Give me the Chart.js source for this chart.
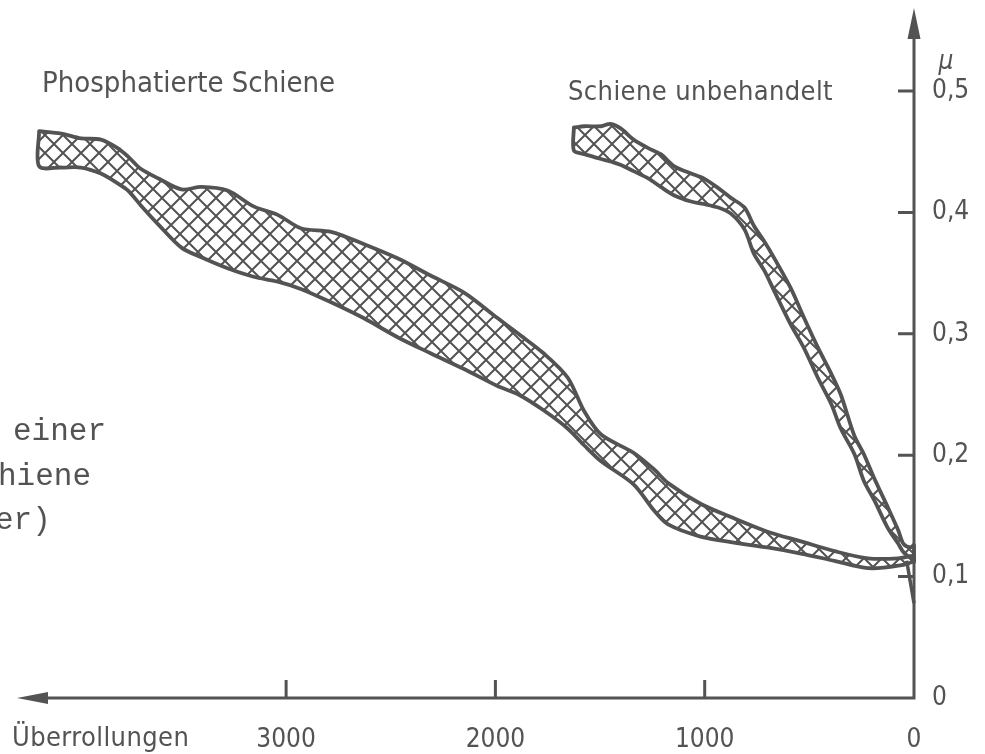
<!DOCTYPE html>
<html>
<head>
<meta charset="utf-8">
<script src="https://cdn.jsdelivr.net/npm/chart.js@4.4.1/dist/chart.umd.min.js"></script>
<style>
html,body{margin:0;padding:0;background:#ffffff;}
#c{display:block;}
</style>
</head>
<body>
<canvas id="c" width="985" height="754" style="width:985px;height:754px"></canvas>
<script>
// ---------- data ----------
const xTickValues = [0, 1000, 2000, 3000];
const xTickLabels = ['0', '1000', '2000', '3000'];
const yTickValues = [0, 0.1, 0.2, 0.3, 0.4, 0.5];
const yTickLabels = ['0', '0,1', '0,2', '0,3', '0,4', '0,5'];
const xAxisTitle = 'Überrollungen';
const yAxisTitle = 'μ';
const phosLabel = 'Phosphatierte Schiene';
const untrLabel = 'Schiene unbehandelt';
const sideLines = ['einer', 'hiene', 'er)'];

// Phosphatierte Schiene: band between upper and lower boundary
const phosX     = [4180, 4075, 3980, 3885, 3805, 3755, 3695, 3610, 3500, 3405, 3280, 3155, 3040, 2930, 2785, 2630, 2465, 2310, 2150, 1990, 1890, 1770, 1655, 1575, 1495, 1340, 1240, 1175, 1020, 860, 700, 540, 380, 220, 75, 0];
const phosUpper = [0.467, 0.465, 0.461, 0.460, 0.453, 0.446, 0.436, 0.428, 0.419, 0.421, 0.418, 0.405, 0.398, 0.387, 0.384, 0.374, 0.362, 0.348, 0.334, 0.313, 0.300, 0.284, 0.264, 0.236, 0.217, 0.202, 0.188, 0.177, 0.160, 0.148, 0.137, 0.129, 0.121, 0.115, 0.115, 0.117];
const phosLower = [0.438, 0.437, 0.437, 0.432, 0.424, 0.418, 0.406, 0.390, 0.371, 0.363, 0.354, 0.347, 0.343, 0.337, 0.326, 0.313, 0.297, 0.284, 0.271, 0.257, 0.250, 0.237, 0.222, 0.208, 0.195, 0.176, 0.154, 0.143, 0.133, 0.128, 0.124, 0.119, 0.113, 0.107, 0.109, 0.113];

// Schiene unbehandelt
const untrX     = [1625, 1575, 1495, 1450, 1400, 1340, 1270, 1210, 1145, 1065, 1005, 935, 875, 810, 765, 715, 670, 590, 525, 460, 395, 350, 285, 240, 190, 125, 75, 50, 15, 0];
const untrUpper = [0.470, 0.471, 0.471, 0.473, 0.469, 0.460, 0.453, 0.448, 0.438, 0.432, 0.428, 0.420, 0.412, 0.404, 0.389, 0.376, 0.363, 0.338, 0.313, 0.289, 0.267, 0.250, 0.216, 0.201, 0.181, 0.157, 0.138, 0.127, 0.124, 0.126];
const untrLower = [0.451, 0.448, 0.444, 0.442, 0.439, 0.434, 0.428, 0.421, 0.414, 0.409, 0.407, 0.404, 0.399, 0.386, 0.366, 0.352, 0.336, 0.308, 0.288, 0.264, 0.242, 0.222, 0.201, 0.179, 0.163, 0.140, 0.127, 0.120, 0.115, 0.112];

// short tail into the axis
const tailX = [35, 0];
const tailY = [0.113, 0.078];

// ---------- helpers ----------
const INK = '#535353';
const X_MAX = 4367;
const Y_MAX = 0.5684;

function fontAvailable(name) {
  const c = document.createElement('canvas').getContext('2d');
  const s = 'abcdefghijklmnopqrstuvwxyz0123456789';
  const res = [];
  for (const base of ['monospace', 'serif']) {
    c.font = '40px ' + base; const w0 = c.measureText(s).width;
    c.font = '40px "' + name + '", ' + base; const w1 = c.measureText(s).width;
    res.push(w0 !== w1);
  }
  return res[0] || res[1];
}
function pickFont(list) {
  for (const f of list) if (fontAvailable(f)) return f;
  return list[list.length - 1];
}
const SANS = pickFont(['DejaVu Sans Condensed', 'DejaVu Sans']);
const COND = SANS === 'DejaVu Sans Condensed';
const PHOS_SIZE = COND ? 29 : 26;
const UNTR_SIZE = COND ? 27 : 24;
const TICK_SIZE = COND ? 26 : 23;
const TITLE_SIZE = COND ? 27 : 24;
const MONO = pickFont(['Liberation Mono', 'DejaVu Sans Mono']);

function band(xs, up, lo) {
  const pts = xs.map((x, i) => ({x: x, y: up[i]}));
  for (let i = xs.length - 1; i >= 0; i--) pts.push({x: xs[i], y: lo[i]});
  pts.push({x: xs[0], y: up[0]});
  return pts;
}

function hatchPattern() {
  const s = 18;
  const c = document.createElement('canvas');
  c.width = s; c.height = s;
  const g = c.getContext('2d');
  g.strokeStyle = INK;
  g.lineWidth = 2;
  g.beginPath();
  g.moveTo(-2, -2); g.lineTo(s + 2, s + 2);
  g.moveTo(s + 2, -2); g.lineTo(-2, s + 2);
  g.stroke();
  return g.createPattern(c, 'repeat');
}
const HATCH = hatchPattern();

// ---------- decorations plugin ----------
const decor = {
  id: 'decor',
  afterDatasetsDraw(chart) {
    const ctx = chart.ctx;
    const xs = chart.scales.x, ys = chart.scales.y;
    const x0 = xs.getPixelForValue(0);
    const y0 = ys.getPixelForValue(0);
    const xTip = xs.getPixelForValue(X_MAX) + 17;
    const yTip = ys.getPixelForValue(Y_MAX);
    ctx.save();
    ctx.strokeStyle = INK; ctx.fillStyle = INK;
    ctx.lineWidth = 3; ctx.lineCap = 'butt';
    // axes
    ctx.beginPath();
    ctx.moveTo(x0 + 1.5, y0); ctx.lineTo(xTip + 20, y0);
    ctx.moveTo(x0, y0 + 1.5); ctx.lineTo(x0, yTip + 20);
    // ticks
    xTickValues.forEach(v => { if (v === 0) return; const p = xs.getPixelForValue(v); ctx.moveTo(p, y0); ctx.lineTo(p, y0 - 18); });
    yTickValues.forEach(v => { if (v === 0) return; const p = ys.getPixelForValue(v); ctx.moveTo(x0, p); ctx.lineTo(x0 - 16, p); });
    ctx.stroke();
    // arrow heads
    ctx.beginPath();
    ctx.moveTo(xTip, y0); ctx.lineTo(xTip + 31, y0 - 6); ctx.lineTo(xTip + 31, y0 + 6); ctx.closePath();
    ctx.moveTo(x0, yTip); ctx.lineTo(x0 - 6.5, yTip + 31); ctx.lineTo(x0 + 6.5, yTip + 31); ctx.closePath();
    ctx.fill();

    // texts
    ctx.textBaseline = 'alphabetic';
    ctx.textAlign = 'left';
    ctx.font = PHOS_SIZE + 'px "' + SANS + '"';
    ctx.fillText(phosLabel, 42, 92);
    ctx.letterSpacing = '0.4px';
    ctx.font = UNTR_SIZE + 'px "' + SANS + '"';
    ctx.fillText(untrLabel, 568, 100);
    ctx.font = TITLE_SIZE + 'px "' + SANS + '"';
    ctx.fillText(xAxisTitle, 12, 746);
    ctx.letterSpacing = '0px';
    ctx.font = 'italic 26px "' + SANS + '"';
    ctx.textAlign = 'center';
    ctx.fillText(yAxisTitle, x0 + 32, 69);
    ctx.textAlign = 'left';
    ctx.font = '31px "' + MONO + '"';
    ctx.fillText(sideLines[0], 13, 440);
    ctx.fillText(sideLines[1], -2, 485);
    ctx.fillText(sideLines[2], -5, 529);
    ctx.restore();
  }
};

// ---------- chart ----------
const ctx = document.getElementById('c').getContext('2d');
new Chart(ctx, {
  type: 'line',
  data: {
    datasets: [
      {
        label: phosLabel,
        data: band(phosX, phosUpper, phosLower),
        borderColor: INK, borderWidth: 3.8, backgroundColor: HATCH,
        fill: 'shape', tension: 0.3, pointRadius: 0, clip: false,
        borderJoinStyle: 'round', borderCapStyle: 'round'
      },
      {
        label: untrLabel,
        data: band(untrX, untrUpper, untrLower),
        borderColor: INK, borderWidth: 3.8, backgroundColor: HATCH,
        fill: 'shape', tension: 0.3, pointRadius: 0, clip: false,
        borderJoinStyle: 'round', borderCapStyle: 'round'
      },
      {
        label: 'tail',
        data: tailX.map((x, i) => ({x: x, y: tailY[i]})),
        borderColor: INK, borderWidth: 3.5, fill: false, tension: 0, pointRadius: 0, clip: false
      }
    ]
  },
  options: {
    responsive: false,
    devicePixelRatio: 1,
    animation: false,
    events: [],
    layout: {padding: {left: 0, top: 8, right: 0, bottom: 0}},
    plugins: {legend: {display: false}, tooltip: {enabled: false}},
    scales: {
      x: {
        type: 'linear', position: 'bottom', reverse: true, min: 0, max: X_MAX,
        grid: {display: false, drawTicks: false}, border: {display: false},
        afterBuildTicks: s => { s.ticks = xTickValues.map(v => ({value: v})); },
        afterFit: s => { s.height = 56; s.paddingLeft = 0; s.paddingRight = 0; },
        ticks: {
          autoSkip: false, maxRotation: 0, padding: 27, color: INK,
          font: {family: SANS, size: TICK_SIZE},
          callback: (v, i) => xTickLabels[i]
        }
      },
      y: {
        type: 'linear', position: 'right', min: 0, max: Y_MAX,
        grid: {display: false, drawTicks: false}, border: {display: false},
        afterBuildTicks: s => { s.ticks = yTickValues.map(v => ({value: v})); },
        afterFit: s => { s.width = 71; s.paddingTop = 0; s.paddingBottom = 0; },
        ticks: {
          autoSkip: false, padding: 18, color: INK,
          font: {family: SANS, size: TICK_SIZE},
          callback: (v, i) => yTickLabels[i]
        }
      }
    }
  },
  plugins: [decor]
});
</script>
</body>
</html>
